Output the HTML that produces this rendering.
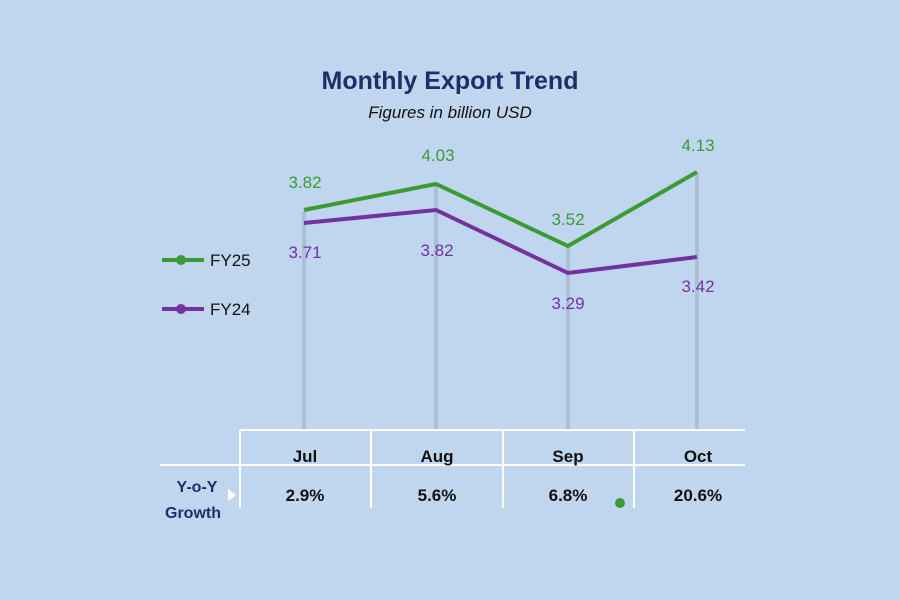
<!DOCTYPE html>
<html><head><style>
html,body{margin:0;padding:0;background:#bfd6ee;}
svg{display:block;}
</style></head><body>
<svg width="900" height="600" xmlns="http://www.w3.org/2000/svg" font-family="'Liberation Sans', sans-serif">
<rect width="900" height="600" fill="#bfd6ee"/>
<text x="450" y="89" text-anchor="middle" font-size="25" font-weight="bold" fill="#1b2f6b">Monthly Export Trend</text>
<text x="450" y="118" text-anchor="middle" font-size="17" font-style="italic" fill="#111">Figures in billion USD</text>
<g stroke="#a4b6cb" stroke-width="4" opacity="0.7">
<line x1="304" y1="212" x2="304" y2="430"/>
<line x1="436" y1="186" x2="436" y2="430"/>
<line x1="568" y1="248" x2="568" y2="430"/>
<line x1="697" y1="174" x2="697" y2="430"/>
</g>
<polyline points="304,210 436,184 568,246 697,172" fill="none" stroke="#3c9a35" stroke-width="4"/>
<polyline points="304,223 436,210 568,273 697,257" fill="none" stroke="#7232a0" stroke-width="4"/>
<g font-size="17" fill="#3c9a35" text-anchor="middle">
<text x="305" y="188">3.82</text><text x="438" y="161">4.03</text><text x="568" y="225">3.52</text><text x="698" y="151">4.13</text>
</g>
<g font-size="17" fill="#7232a0" text-anchor="middle">
<text x="305" y="258">3.71</text><text x="437" y="256">3.82</text><text x="568" y="309">3.29</text><text x="698" y="292">3.42</text>
</g>
<line x1="162" y1="260" x2="204" y2="260" stroke="#3c9a35" stroke-width="4"/><circle cx="181" cy="260" r="5" fill="#3c9a35"/>
<text x="210" y="266" font-size="17" fill="#111">FY25</text>
<line x1="162" y1="309" x2="204" y2="309" stroke="#7232a0" stroke-width="4"/><circle cx="181" cy="309" r="5" fill="#7232a0"/>
<text x="210" y="315" font-size="17" fill="#111">FY24</text>
<g stroke="#fff" stroke-width="2">
<line x1="240" y1="430" x2="745" y2="430"/>
<line x1="160" y1="465" x2="745" y2="465"/>
<line x1="240" y1="430" x2="240" y2="508"/>
<line x1="371" y1="430" x2="371" y2="508"/>
<line x1="503" y1="430" x2="503" y2="508"/>
<line x1="634" y1="430" x2="634" y2="508"/>
</g>
<g font-size="17" font-weight="bold" fill="#111" text-anchor="middle">
<text x="305" y="462">Jul</text><text x="437" y="462">Aug</text><text x="568" y="462">Sep</text><text x="698" y="462">Oct</text>
<text x="305" y="501">2.9%</text><text x="437" y="501">5.6%</text><text x="568" y="501">6.8%</text><text x="698" y="501">20.6%</text>
</g>
<g font-size="16" font-weight="bold" fill="#1b2f6b" text-anchor="middle">
<text x="197" y="492">Y-o-Y</text><text x="193" y="518">Growth</text>
</g>
<polygon points="228,489 236,495 228,501" fill="#fff"/>
<circle cx="620" cy="503" r="5" fill="#3c9a35"/>
</svg>
</body></html>
